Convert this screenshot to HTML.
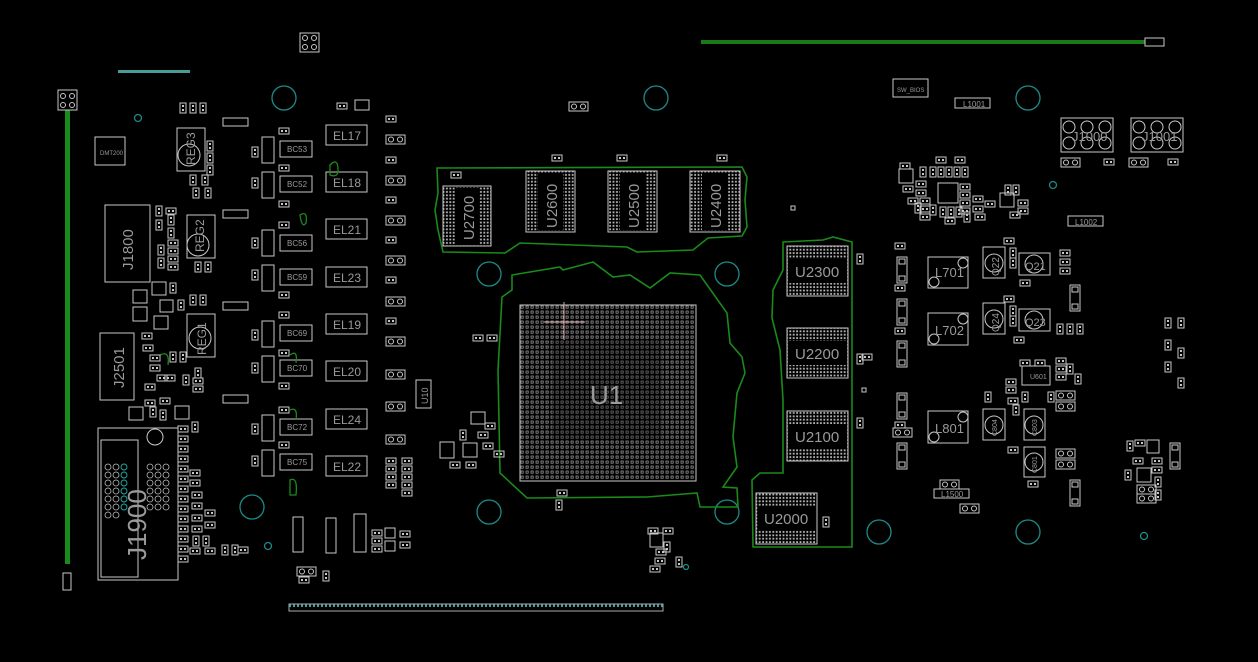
<!DOCTYPE html>
<html><head><meta charset="utf-8"><style>
html,body{margin:0;padding:0;background:#000;}
svg{display:block}
text{font-family:"Liberation Sans",sans-serif;fill:#9a9a9a}
</style></head><body>
<svg width="1258" height="662" viewBox="0 0 1258 662" xmlns="http://www.w3.org/2000/svg">
<defs>
<pattern id="bga" width="5" height="5" patternUnits="userSpaceOnUse"><rect x="1" y="1" width="2.2" height="2.2" fill="none" stroke="#a8a8a8" stroke-width="0.7"/></pattern>
<pattern id="mem" width="3.4" height="3.4" patternUnits="userSpaceOnUse"><rect x="0.6" y="0.6" width="1.8" height="1.8" fill="#b8b8b8"/></pattern>
<pattern id="conn" width="4" height="7" patternUnits="userSpaceOnUse"><rect x="1" y="2" width="2" height="3" fill="#3aa0a0"/></pattern>
<g id="ph"><rect x="0" y="0" width="10" height="6" fill="none" stroke="#c8c8c8" stroke-width="1"/><rect x="2" y="2" width="2" height="2" fill="#c8c8c8"/><rect x="6" y="2" width="2" height="2" fill="#c8c8c8"/></g>
<g id="pv"><rect x="0" y="0" width="6" height="10" fill="none" stroke="#c8c8c8" stroke-width="1"/><rect x="2" y="2" width="2" height="2" fill="#c8c8c8"/><rect x="2" y="6" width="2" height="2" fill="#c8c8c8"/></g>
<g id="pp"><rect x="0" y="0" width="19" height="9" fill="none" stroke="#c8c8c8" stroke-width="1"/><circle cx="5" cy="4.5" r="2.5" fill="none" stroke="#c8c8c8"/><circle cx="14" cy="4.5" r="2.5" fill="none" stroke="#c8c8c8"/></g>
<g id="ppv"><rect x="0" y="0" width="10" height="26" fill="none" stroke="#c8c8c8" stroke-width="1"/><rect x="2" y="2" width="6" height="5" fill="none" stroke="#c8c8c8"/><rect x="2" y="19" width="6" height="5" fill="none" stroke="#c8c8c8"/></g>
</defs>

<rect x="701" y="40" width="444" height="4" fill="#1a7a1a"/>
<rect x="1145" y="38" width="19" height="8" fill="none" stroke="#c8c8c8"/>
<rect x="65" y="110" width="5" height="454" fill="#1a8a1a"/>
<rect x="58" y="90" width="19" height="20" fill="none" stroke="#c8c8c8"/>
<circle cx="63" cy="96" r="2.5" fill="none" stroke="#c8c8c8"/><circle cx="72" cy="96" r="2.5" fill="none" stroke="#c8c8c8"/><circle cx="63" cy="105" r="2.5" fill="none" stroke="#c8c8c8"/><circle cx="72" cy="105" r="2.5" fill="none" stroke="#c8c8c8"/>
<rect x="63" y="573" width="8" height="17" fill="none" stroke="#c8c8c8"/>
<rect x="118" y="70" width="72" height="3" fill="#4a9a9a"/>
<rect x="289" y="604" width="374" height="7" fill="url(#conn)" stroke="#aaa" stroke-width="1"/>
<rect x="300" y="33" width="19" height="19" fill="none" stroke="#c8c8c8"/>
<circle cx="305" cy="38" r="2.5" fill="none" stroke="#c8c8c8"/><circle cx="314" cy="38" r="2.5" fill="none" stroke="#c8c8c8"/><circle cx="305" cy="47" r="2.5" fill="none" stroke="#c8c8c8"/><circle cx="314" cy="47" r="2.5" fill="none" stroke="#c8c8c8"/>

<g fill="none" stroke="#1d8a8a" stroke-width="1.3">
<circle cx="284" cy="98" r="12"/><circle cx="656" cy="98" r="12"/><circle cx="1028" cy="98" r="12"/>
<circle cx="489" cy="274" r="12"/><circle cx="727" cy="274" r="12"/><circle cx="489" cy="512" r="12"/><circle cx="727" cy="512" r="12"/>
<circle cx="252" cy="507" r="12"/><circle cx="879" cy="532" r="12"/><circle cx="1028" cy="532" r="12"/>
<circle cx="138" cy="118" r="3.5"/><circle cx="1053" cy="185" r="3.5"/><circle cx="268" cy="546" r="3.5"/><circle cx="1144" cy="536" r="3.5"/><circle cx="686" cy="567" r="2.5"/>
</g>

<g fill="none" stroke="#1a8a1a" stroke-width="1.6">
<polygon points="437,168 742,167 747,177 745,200 747,227 742,236 708,238 693,250 637,252 627,247 520,243 505,253 443,252 438,230 435,210 438,193"/>
<polygon points="512,275 560,267 563,270 593,262 613,277 630,275 650,288 670,273 700,275 727,313 730,343 742,357 745,373 737,393 733,437 737,467 723,487 737,488 738,507 700,507 697,493 647,497 527,498 500,473 498,370 502,297 512,290"/>
<polygon points="783,242 823,240 833,237 852,242 852,547 753,547 752,480 760,473 783,473 783,400 780,350 772,318 773,290 783,270"/>
</g>

<g stroke="#c8c8c8" stroke-width="1">
<rect x="443" y="186" width="48" height="60" fill="url(#mem)"/><rect x="455" y="188" width="24" height="56" fill="#000" stroke="none"/>
<rect x="526" y="171" width="49" height="61" fill="url(#mem)"/><rect x="538" y="173" width="25" height="57" fill="#000" stroke="none"/>
<rect x="608" y="171" width="49" height="61" fill="url(#mem)"/><rect x="620" y="173" width="25" height="57" fill="#000" stroke="none"/>
<rect x="690" y="171" width="50" height="61" fill="url(#mem)"/><rect x="702" y="173" width="26" height="57" fill="#000" stroke="none"/>
<rect x="787" y="246" width="61" height="50" fill="url(#mem)"/><rect x="789" y="259" width="57" height="24" fill="#000" stroke="none"/>
<rect x="787" y="328" width="61" height="50" fill="url(#mem)"/><rect x="789" y="341" width="57" height="24" fill="#000" stroke="none"/>
<rect x="787" y="411" width="61" height="50" fill="url(#mem)"/><rect x="789" y="424" width="57" height="24" fill="#000" stroke="none"/>
<rect x="756" y="493" width="61" height="51" fill="url(#mem)"/><rect x="758" y="506" width="57" height="24" fill="#000" stroke="none"/>
</g>
<g font-size="15">
<text transform="translate(474,240) rotate(-90)">U2700</text>
<text transform="translate(557,228) rotate(-90)">U2600</text>
<text transform="translate(639,228) rotate(-90)">U2500</text>
<text transform="translate(721,228) rotate(-90)">U2400</text>
<text x="795" y="277">U2300</text><text x="795" y="359">U2200</text><text x="795" y="442">U2100</text><text x="764" y="524">U2000</text>
</g>

<rect x="520" y="305" width="176" height="176" fill="url(#bga)" stroke="#c8c8c8"/>
<rect x="552" y="340" width="110" height="100" fill="#000" opacity="0.25"/>
<line x1="564" y1="302" x2="564" y2="340" stroke="#d8a8a8"/><line x1="544" y1="322" x2="585" y2="322" stroke="#d8a8a8"/>
<text x="590" y="404" font-size="26" fill="#888">U1</text>

<use href="#ph" x="552" y="155"/><use href="#ph" x="617" y="155"/><use href="#ph" x="717" y="155"/><use href="#ph" x="451" y="172"/>
<use href="#pp" x="569" y="102"/><rect x="791" y="206" width="4" height="4" fill="none" stroke="#c8c8c8"/>
<use href="#pv" x="857" y="254"/><use href="#pv" x="857" y="354"/><use href="#pv" x="857" y="418"/><use href="#pv" x="823" y="517"/>
<use href="#ph" x="473" y="335"/><use href="#ph" x="487" y="335"/><use href="#ph" x="557" y="490"/><use href="#pv" x="556" y="500"/>
<rect x="416" y="380" width="15" height="28" fill="none" stroke="#c8c8c8"/><text transform="translate(428,404) rotate(-90)" font-size="9">U10</text>
<rect x="471" y="412" width="14" height="12" fill="none" stroke="#c8c8c8"/><rect x="440" y="442" width="14" height="16" fill="none" stroke="#c8c8c8"/><rect x="463" y="443" width="14" height="14" fill="none" stroke="#c8c8c8"/>
<use href="#ph" x="485" y="423"/><use href="#ph" x="478" y="432"/><use href="#ph" x="483" y="443"/><use href="#pv" x="460" y="430"/><use href="#ph" x="450" y="462"/><use href="#ph" x="466" y="462"/><use href="#ph" x="494" y="451"/>
<rect x="650" y="533" width="13" height="14" fill="none" stroke="#c8c8c8"/><use href="#ph" x="648" y="528"/><use href="#ph" x="663" y="528"/><use href="#ph" x="656" y="549"/><use href="#ph" x="655" y="558"/><use href="#ph" x="650" y="566"/><use href="#pv" x="664" y="542"/><use href="#pv" x="676" y="557"/>
<use href="#ph" x="862" y="354"/><rect x="862" y="388" width="4" height="4" fill="none" stroke="#c8c8c8"/>

<g fill="none" stroke="#c8c8c8">
<rect x="95" y="137" width="30" height="28"/>
<rect x="177" y="128" width="28" height="43"/><circle cx="189" cy="155" r="11"/>
<rect x="105" y="205" width="45" height="77"/>
<rect x="187" y="215" width="28" height="43"/><circle cx="198" cy="245" r="11"/>
<rect x="187" y="314" width="28" height="43"/><circle cx="200" cy="338" r="11"/>
<rect x="100" y="333" width="34" height="67"/>
<rect x="98" y="428" width="80" height="152"/><rect x="101" y="440" width="37" height="137"/><circle cx="155" cy="437" r="8"/>
</g>
<text x="100" y="155" font-size="6">DMT200</text>
<g font-size="15"><text transform="translate(133,270) rotate(-90)">J1800</text><text transform="translate(124,388) rotate(-90)">J2501</text></g>
<g font-size="12"><text transform="translate(195,165) rotate(-90)">REG3</text><text transform="translate(204,252) rotate(-90)">REG2</text><text transform="translate(206,355) rotate(-90)">REG1</text></g>
<text transform="translate(146,560) rotate(-90)" font-size="26" fill="#777">J1900</text>
<g fill="none" stroke="#bbb" stroke-width="0.8">
<circle cx="108" cy="467" r="3"/><circle cx="108" cy="475" r="3"/><circle cx="108" cy="483" r="3"/><circle cx="108" cy="491" r="3"/><circle cx="108" cy="499" r="3"/><circle cx="108" cy="507" r="3"/><circle cx="108" cy="515" r="3"/>
<circle cx="116" cy="467" r="3"/><circle cx="116" cy="475" r="3"/><circle cx="116" cy="483" r="3"/><circle cx="116" cy="491" r="3"/><circle cx="116" cy="499" r="3"/><circle cx="116" cy="507" r="3"/><circle cx="116" cy="515" r="3"/>
<circle cx="150" cy="467" r="3"/><circle cx="158" cy="467" r="3"/><circle cx="166" cy="467" r="3"/><circle cx="150" cy="475" r="3"/><circle cx="158" cy="475" r="3"/><circle cx="166" cy="475" r="3"/><circle cx="150" cy="483" r="3"/><circle cx="158" cy="483" r="3"/><circle cx="166" cy="483" r="3"/><circle cx="150" cy="491" r="3"/><circle cx="158" cy="491" r="3"/><circle cx="166" cy="491" r="3"/><circle cx="150" cy="499" r="3"/><circle cx="158" cy="499" r="3"/><circle cx="166" cy="499" r="3"/><circle cx="150" cy="507" r="3"/><circle cx="158" cy="507" r="3"/><circle cx="166" cy="507" r="3"/>
</g>
<g fill="none" stroke="#2aa" stroke-width="0.9"><circle cx="124" cy="467" r="3"/><circle cx="124" cy="475" r="3"/><circle cx="124" cy="483" r="3"/><circle cx="124" cy="491" r="3"/><circle cx="124" cy="499" r="3"/><circle cx="124" cy="507" r="3"/></g>

<g fill="none" stroke="#c8c8c8">
<rect x="262" y="137" width="12" height="26"/><rect x="280" y="141" width="32" height="16"/><rect x="326" y="125" width="41" height="20"/>
<rect x="262" y="172" width="12" height="26"/><rect x="280" y="176" width="32" height="16"/><rect x="326" y="172" width="41" height="20"/>
<rect x="262" y="230" width="12" height="26"/><rect x="280" y="235" width="32" height="16"/><rect x="326" y="219" width="41" height="20"/>
<rect x="262" y="265" width="12" height="26"/><rect x="280" y="269" width="32" height="16"/><rect x="326" y="267" width="41" height="20"/>
<rect x="262" y="321" width="12" height="26"/><rect x="280" y="325" width="32" height="16"/><rect x="326" y="314" width="41" height="20"/>
<rect x="262" y="356" width="12" height="26"/><rect x="280" y="360" width="32" height="16"/><rect x="326" y="361" width="41" height="20"/>
<rect x="262" y="415" width="12" height="26"/><rect x="280" y="419" width="32" height="16"/><rect x="326" y="409" width="41" height="20"/>
<rect x="262" y="450" width="12" height="26"/><rect x="280" y="454" width="32" height="16"/><rect x="326" y="456" width="41" height="20"/>
<rect x="223" y="118" width="25" height="8"/><rect x="223" y="210" width="25" height="8"/><rect x="223" y="302" width="25" height="8"/><rect x="223" y="395" width="25" height="8"/>
<rect x="293" y="517" width="10" height="35"/><rect x="326" y="518" width="10" height="35"/><rect x="354" y="514" width="12" height="38"/>
</g>
<g font-size="8"><text x="287" y="152">BC53</text><text x="287" y="187">BC52</text><text x="287" y="246">BC56</text><text x="287" y="280">BC59</text><text x="287" y="336">BC69</text><text x="287" y="371">BC70</text><text x="287" y="430">BC72</text><text x="287" y="465">BC75</text></g>
<g font-size="12"><text x="333" y="140">EL17</text><text x="333" y="187">EL18</text><text x="333" y="234">EL21</text><text x="333" y="282">EL23</text><text x="333" y="329">EL19</text><text x="333" y="376">EL20</text><text x="333" y="424">EL24</text><text x="333" y="471">EL22</text></g>
<g fill="none" stroke="#1a8a1a" stroke-width="1.3"><path d="M330,165 q8,-8 8,5 q0,8 -8,5z"/><path d="M300,215 q8,-5 6,8 q-4,6 -6,-8z"/><path d="M290,355 q8,-6 6,8"/><path d="M290,410 q8,-4 6,10"/><path d="M290,480 q8,-4 6,15 l-6,0z"/><path d="M160,355 q10,-5 8,10"/></g>
<use href="#ph" x="386" y="116"/><use href="#pp" x="386" y="135"/><use href="#ph" x="386" y="157"/><use href="#pp" x="386" y="176"/><use href="#ph" x="386" y="197"/><use href="#pp" x="386" y="216"/><use href="#ph" x="386" y="237"/><use href="#pp" x="386" y="256"/><use href="#ph" x="386" y="277"/><use href="#pp" x="386" y="297"/><use href="#ph" x="386" y="318"/><use href="#pp" x="386" y="337"/><use href="#pp" x="386" y="370"/><use href="#pp" x="386" y="402"/><use href="#pp" x="386" y="435"/>
<use href="#ph" x="386" y="458"/><use href="#ph" x="386" y="466"/><use href="#ph" x="386" y="474"/><use href="#ph" x="386" y="482"/><use href="#ph" x="402" y="458"/><use href="#ph" x="402" y="466"/><use href="#ph" x="402" y="474"/><use href="#ph" x="402" y="482"/><use href="#ph" x="402" y="490"/>
<use href="#ph" x="279" y="128"/><use href="#ph" x="279" y="165"/><use href="#ph" x="279" y="201"/><use href="#ph" x="279" y="222"/><use href="#ph" x="279" y="292"/><use href="#ph" x="279" y="312"/><use href="#ph" x="279" y="350"/><use href="#ph" x="279" y="383"/><use href="#ph" x="279" y="407"/><use href="#ph" x="279" y="442"/>
<use href="#pv" x="252" y="147"/><use href="#pv" x="252" y="178"/><use href="#pv" x="252" y="238"/><use href="#pv" x="252" y="270"/><use href="#pv" x="252" y="330"/><use href="#pv" x="252" y="363"/><use href="#pv" x="252" y="424"/><use href="#pv" x="252" y="456"/>
<use href="#ph" x="337" y="103"/><rect x="355" y="100" width="14" height="10" fill="none" stroke="#c8c8c8"/>
<use href="#pv" x="180" y="103"/><use href="#pv" x="190" y="103"/><use href="#pv" x="200" y="103"/><use href="#pv" x="207" y="141"/><use href="#pv" x="207" y="153"/><use href="#pv" x="207" y="165"/>
<use href="#pv" x="190" y="175"/><use href="#pv" x="202" y="175"/><use href="#pv" x="193" y="188"/><use href="#pv" x="205" y="188"/>
<use href="#pv" x="156" y="206"/><use href="#pv" x="156" y="220"/><use href="#pv" x="168" y="215"/><use href="#pv" x="168" y="228"/><use href="#ph" x="166" y="208"/>
<use href="#ph" x="168" y="240"/><use href="#ph" x="168" y="248"/><use href="#ph" x="168" y="256"/><use href="#ph" x="168" y="264"/><use href="#pv" x="158" y="245"/><use href="#pv" x="158" y="258"/><use href="#pv" x="195" y="262"/><use href="#pv" x="205" y="262"/>
<rect x="133" y="290" width="14" height="13" fill="none" stroke="#c8c8c8"/><rect x="152" y="282" width="14" height="13" fill="none" stroke="#c8c8c8"/><rect x="133" y="307" width="14" height="14" fill="none" stroke="#c8c8c8"/><rect x="160" y="300" width="13" height="12" fill="none" stroke="#c8c8c8"/><rect x="154" y="316" width="14" height="13" fill="none" stroke="#c8c8c8"/>
<use href="#pv" x="170" y="283"/><use href="#pv" x="190" y="295"/><use href="#pv" x="200" y="295"/><use href="#pv" x="178" y="300"/>
<use href="#ph" x="142" y="333"/><use href="#ph" x="143" y="345"/><use href="#ph" x="150" y="355"/><use href="#ph" x="150" y="365"/><use href="#ph" x="157" y="375"/><use href="#ph" x="145" y="384"/><use href="#ph" x="165" y="375"/><use href="#pv" x="170" y="352"/><use href="#pv" x="180" y="352"/><use href="#pv" x="195" y="368"/><use href="#ph" x="193" y="378"/><use href="#ph" x="193" y="386"/><use href="#pv" x="183" y="375"/>
<rect x="129" y="407" width="14" height="13" fill="none" stroke="#c8c8c8"/><rect x="175" y="406" width="14" height="13" fill="none" stroke="#c8c8c8"/><use href="#ph" x="145" y="400"/><use href="#pv" x="150" y="407"/><use href="#pv" x="160" y="410"/><use href="#ph" x="160" y="398"/><use href="#pv" x="192" y="422"/>
<use href="#ph" x="178" y="426"/><use href="#ph" x="178" y="436"/><use href="#ph" x="178" y="446"/><use href="#ph" x="178" y="456"/><use href="#ph" x="178" y="466"/><use href="#ph" x="178" y="476"/><use href="#ph" x="178" y="486"/><use href="#ph" x="178" y="496"/><use href="#ph" x="178" y="506"/><use href="#ph" x="178" y="516"/><use href="#ph" x="178" y="526"/><use href="#ph" x="178" y="536"/><use href="#ph" x="178" y="546"/><use href="#ph" x="178" y="556"/>
<use href="#ph" x="190" y="470"/><use href="#ph" x="190" y="480"/><use href="#ph" x="192" y="492"/><use href="#ph" x="192" y="503"/><use href="#ph" x="192" y="515"/><use href="#ph" x="192" y="526"/><use href="#ph" x="205" y="510"/><use href="#ph" x="205" y="522"/><use href="#pv" x="193" y="536"/><use href="#pv" x="203" y="536"/><use href="#ph" x="190" y="548"/><use href="#ph" x="205" y="548"/><use href="#pv" x="222" y="545"/><use href="#pv" x="232" y="545"/><use href="#ph" x="238" y="547"/>
<use href="#pp" x="297" y="567"/><use href="#ph" x="299" y="577"/><use href="#pv" x="323" y="571"/>
<use href="#ph" x="372" y="530"/><use href="#ph" x="372" y="538"/><use href="#ph" x="372" y="546"/><rect x="385" y="528" width="10" height="10" fill="none" stroke="#c8c8c8"/><rect x="385" y="541" width="10" height="10" fill="none" stroke="#c8c8c8"/><use href="#ph" x="400" y="531"/><use href="#ph" x="400" y="542"/>

<g fill="none" stroke="#c8c8c8">
<rect x="893" y="79" width="35" height="18"/>
<rect x="955" y="98" width="35" height="10"/>
<rect x="1061" y="118" width="52" height="34"/><rect x="1131" y="118" width="52" height="34"/>
<circle cx="1069" cy="127" r="6"/><circle cx="1087" cy="127" r="6"/><circle cx="1105" cy="127" r="6"/><circle cx="1069" cy="143" r="6"/><circle cx="1087" cy="143" r="6"/><circle cx="1105" cy="143" r="6"/>
<circle cx="1139" cy="127" r="6"/><circle cx="1157" cy="127" r="6"/><circle cx="1175" cy="127" r="6"/><circle cx="1139" cy="143" r="6"/><circle cx="1157" cy="143" r="6"/><circle cx="1175" cy="143" r="6"/>
<rect x="1068" y="216" width="35" height="10"/>
<rect x="928" y="257" width="40" height="31"/><rect x="928" y="313" width="40" height="32"/><rect x="928" y="411" width="40" height="32"/>
<circle cx="963" cy="263" r="5"/><circle cx="934" cy="282" r="5"/><circle cx="963" cy="319" r="5"/><circle cx="934" cy="339" r="5"/><circle cx="963" cy="417" r="5"/><circle cx="934" cy="437" r="5"/>
<rect x="983" y="247" width="22" height="31"/><circle cx="994" cy="263" r="9"/>
<rect x="1019" y="253" width="31" height="22"/><circle cx="1034" cy="264" r="9"/>
<rect x="983" y="303" width="22" height="31"/><circle cx="994" cy="319" r="9"/>
<rect x="1019" y="309" width="31" height="22"/><circle cx="1034" cy="320" r="9"/>
<rect x="1022" y="366" width="28" height="19"/>
<rect x="983" y="409" width="22" height="31"/><circle cx="994" cy="425" r="9"/>
<rect x="1024" y="409" width="21" height="31"/><circle cx="1034" cy="425" r="9"/>
<rect x="1024" y="447" width="21" height="30"/><circle cx="1034" cy="462" r="9"/>
<rect x="934" y="489" width="35" height="9"/>
<rect x="938" y="183" width="20" height="20"/><rect x="1000" y="193" width="14" height="14"/><rect x="899" y="169" width="14" height="14"/>
<rect x="1147" y="440" width="12" height="13"/><rect x="1137" y="468" width="14" height="14"/>
</g>
<text x="897" y="92" font-size="6">SW_BIOS</text>
<text x="963" y="107" font-size="8">L1001</text><text x="1075" y="225" font-size="8">L1002</text><text x="941" y="497" font-size="8">L1500</text>
<text x="1072" y="141" font-size="13" fill="#888">J1000</text><text x="1142" y="141" font-size="13" fill="#888">J1001</text>
<g font-size="13"><text x="935" y="277">L701</text><text x="935" y="335">L702</text><text x="935" y="433">L801</text><text x="1025" y="270" font-size="11">Q21</text><text x="1025" y="326" font-size="11">Q23</text></g>
<text transform="translate(999,276) rotate(-90)" font-size="10">Q22</text><text transform="translate(999,332) rotate(-90)" font-size="10">Q24</text>
<g font-size="7"><text transform="translate(997,436) rotate(-90)">C804</text><text transform="translate(1037,436) rotate(-90)">C803</text><text transform="translate(1037,473) rotate(-90)">C801</text><text x="1030" y="379">U601</text></g>
<use href="#pp" x="960" y="504"/><use href="#pp" x="940" y="480"/>
<use href="#ph" x="900" y="163"/><use href="#pv" x="920" y="167"/><use href="#pv" x="930" y="167"/><use href="#pv" x="938" y="167"/><use href="#pv" x="946" y="167"/><use href="#pv" x="954" y="167"/><use href="#pv" x="962" y="167"/><use href="#ph" x="936" y="157"/><use href="#ph" x="955" y="157"/>
<use href="#ph" x="903" y="186"/><use href="#ph" x="916" y="181"/><use href="#ph" x="916" y="190"/><use href="#ph" x="908" y="198"/><use href="#ph" x="920" y="198"/><use href="#ph" x="920" y="206"/><use href="#ph" x="920" y="214"/><use href="#pv" x="915" y="203"/><use href="#pv" x="930" y="205"/>
<use href="#ph" x="960" y="184"/><use href="#ph" x="960" y="192"/><use href="#ph" x="960" y="200"/><use href="#ph" x="960" y="208"/><use href="#ph" x="973" y="196"/><use href="#ph" x="973" y="206"/><use href="#ph" x="985" y="201"/><use href="#pv" x="940" y="207"/><use href="#pv" x="948" y="207"/><use href="#pv" x="956" y="207"/><use href="#pv" x="964" y="212"/><use href="#ph" x="945" y="218"/><use href="#ph" x="975" y="214"/><use href="#ph" x="1018" y="200"/><use href="#ph" x="1018" y="208"/><use href="#ph" x="1010" y="212"/><use href="#pv" x="1005" y="185"/><use href="#pv" x="1013" y="185"/>
<use href="#pp" x="1061" y="158"/><use href="#ph" x="1104" y="159"/><use href="#pp" x="1129" y="158"/><use href="#ph" x="1168" y="159"/>
<use href="#ph" x="895" y="243"/><use href="#ppv" x="897" y="257"/><use href="#ph" x="895" y="285"/><use href="#ppv" x="897" y="299"/><use href="#ph" x="895" y="328"/><use href="#ppv" x="897" y="341"/><use href="#ppv" x="897" y="393"/><use href="#ph" x="895" y="422"/><use href="#pp" x="893" y="428"/><use href="#ppv" x="897" y="443"/>
<use href="#ph" x="1004" y="238"/><use href="#pv" x="1010" y="248"/><use href="#pv" x="1010" y="258"/><use href="#ph" x="1060" y="250"/><use href="#ph" x="1060" y="259"/><use href="#ph" x="1060" y="268"/><use href="#ph" x="1020" y="280"/><use href="#ppv" x="1070" y="285"/>
<use href="#ph" x="1004" y="296"/><use href="#pv" x="1010" y="306"/><use href="#pv" x="1010" y="316"/><use href="#ph" x="1014" y="337"/><use href="#pv" x="1057" y="324"/><use href="#pv" x="1067" y="324"/><use href="#pv" x="1077" y="324"/>
<use href="#ph" x="1020" y="360"/><use href="#ph" x="1035" y="360"/><use href="#ph" x="1056" y="358"/><use href="#ph" x="1056" y="366"/><use href="#ph" x="1056" y="374"/><use href="#pv" x="1067" y="364"/><use href="#pv" x="1075" y="374"/><use href="#ph" x="1006" y="379"/><use href="#ph" x="1006" y="387"/><use href="#pv" x="985" y="392"/><use href="#pv" x="1022" y="392"/><use href="#pv" x="1048" y="392"/><use href="#pp" x="1056" y="391"/><use href="#pp" x="1056" y="402"/><use href="#ph" x="1008" y="398"/><use href="#pv" x="1013" y="405"/>
<use href="#pp" x="1056" y="449"/><use href="#pp" x="1056" y="460"/><use href="#ph" x="1008" y="447"/><use href="#ph" x="1028" y="481"/><use href="#ppv" x="1070" y="480"/>
<use href="#pv" x="1165" y="318"/><use href="#pv" x="1178" y="318"/><use href="#pv" x="1165" y="340"/><use href="#pv" x="1178" y="348"/><use href="#pv" x="1165" y="362"/><use href="#pv" x="1178" y="378"/>
<use href="#pv" x="1127" y="441"/><use href="#ph" x="1135" y="440"/><use href="#ph" x="1133" y="458"/><use href="#ph" x="1152" y="458"/><use href="#ph" x="1152" y="467"/><use href="#pv" x="1125" y="470"/><use href="#ppv" x="1170" y="443"/><use href="#pv" x="1155" y="477"/><use href="#pp" x="1137" y="485"/><use href="#pp" x="1137" y="494"/><use href="#pv" x="1155" y="490"/>
</svg>
</body></html>
